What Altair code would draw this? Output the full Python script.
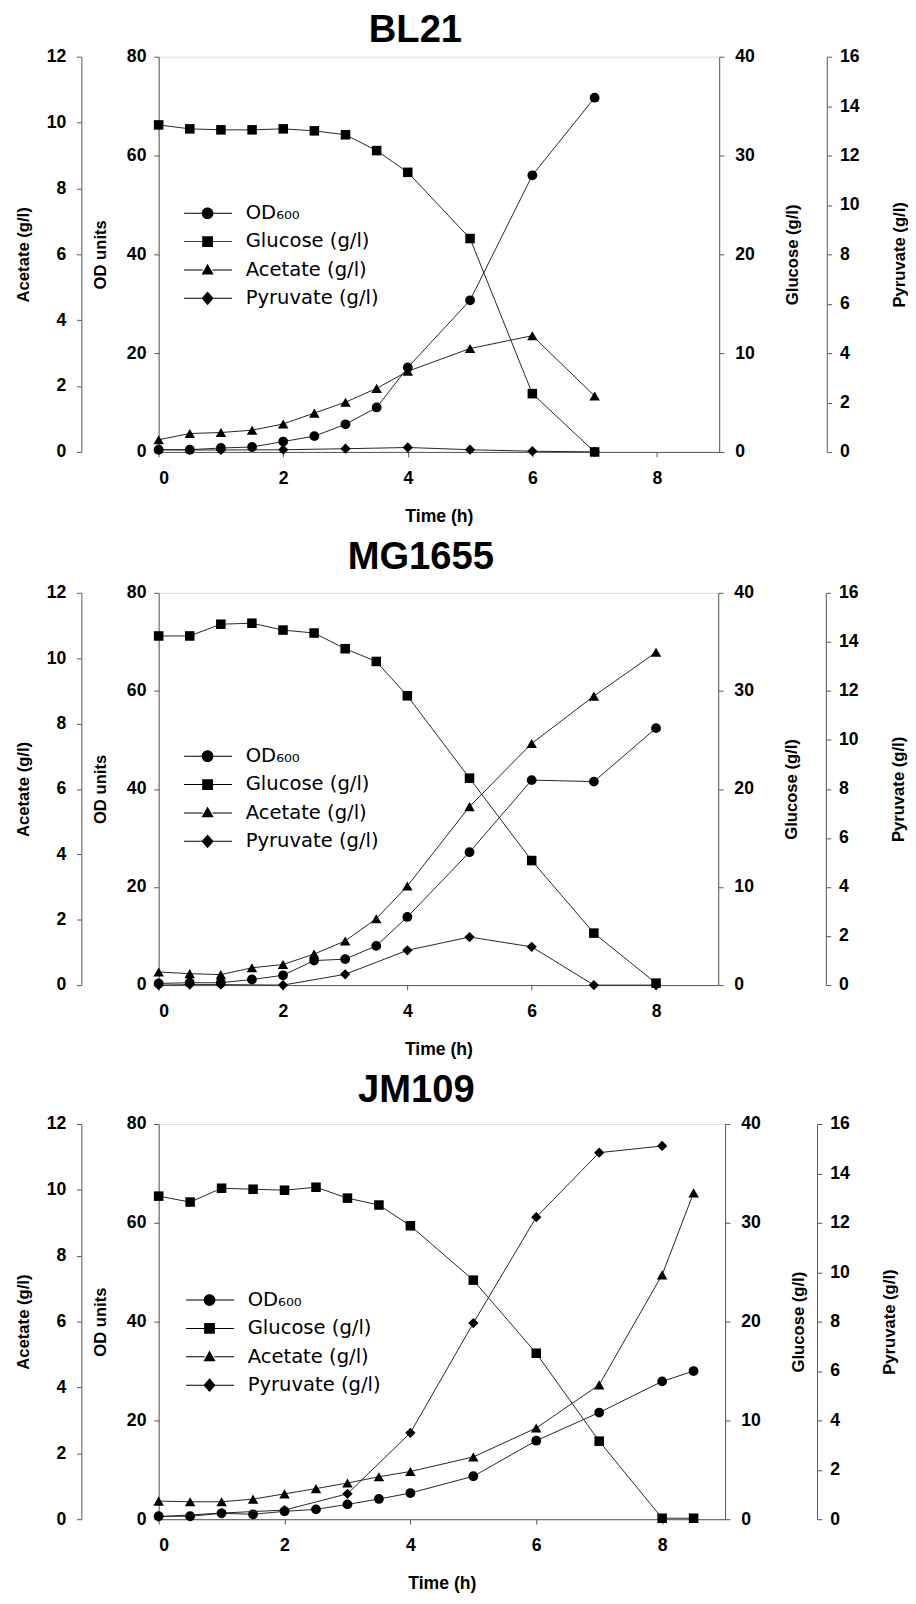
import altair as alt
import pandas as pd

FONT = "Liberation Sans"
LEG_FONT = "DejaVu Sans"
LEGEND_NAMES = ["OD₆₀₀", "Glucose (g/l)", "Acetate (g/l)", "Pyruvate (g/l)"]
X_TICKS = [0, 2, 4, 6, 8]
OD_TICKS = [0, 20, 40, 60, 80]
GLC_TICKS = [0, 10, 20, 30, 40]
ACE_TICKS = [0, 2, 4, 6, 8, 10, 12]
PYR_TICKS = [0, 2, 4, 6, 8, 10, 12, 14, 16]

# ---- BL21 ----
BL_T = [0, 0.5, 1, 1.5, 2, 2.5, 3, 3.5, 4, 5, 6, 7]
BL_OD = [0.45, 0.45, 0.8, 1.0, 2.1, 3.2, 5.6, 9.0, 17.1, 30.7, 56.0, 71.7]
BL_GLC = [33.1, 32.7, 32.6, 32.6, 32.7, 32.5, 32.1, 30.5, 28.3, 21.6, 5.9, 0.0]
BL_ACE = [0.37, 0.56, 0.59, 0.66, 0.85, 1.18, 1.51, 1.93, 2.45, 3.14, 3.53, 1.70]
BL_PYR_T = [0, 0.5, 1, 2, 3, 4, 5, 6, 7]
BL_PYR = [0.09, 0.08, 0.08, 0.09, 0.13, 0.18, 0.09, 0.03, 0.0]

# ---- MG1655 ----
MG_T = [0, 0.5, 1, 1.5, 2, 2.5, 3, 3.5, 4, 5, 6, 7, 8]
MG_OD = [0.34, 0.48, 0.48, 1.14, 2.0, 5.0, 5.3, 8.0, 13.9, 27.1, 41.8, 41.5, 52.4]
MG_GLC = [35.6, 35.6, 36.8, 36.9, 36.2, 35.9, 34.3, 33.0, 29.5, 21.1, 12.7, 5.3, 0.2]
MG_ACE = [0.40, 0.35, 0.32, 0.53, 0.63, 0.95, 1.35, 2.03, 3.03, 5.46, 7.39, 8.84, 10.18]
MG_PYR_T = [0, 0.5, 1, 2, 3, 4, 5, 6, 7, 8]
MG_PYR = [0.0, 0.02, 0.02, 0.0, 0.44, 1.42, 1.96, 1.56, 0.0, 0.0]

# ---- JM109 ----
JM_T = [0, 0.5, 1, 1.5, 2, 2.5, 3, 3.5, 4, 5, 6, 7, 8, 8.5]
JM_OD = [0.6, 0.6, 1.2, 1.0, 1.6, 2.0, 3.0, 4.1, 5.3, 8.7, 15.9, 21.6, 27.9, 30.0]
JM_GLC = [32.7, 32.1, 33.5, 33.4, 33.3, 33.6, 32.5, 31.8, 29.7, 24.2, 16.8, 7.9, 0.1, 0.1]
JM_ACE = [0.55, 0.53, 0.53, 0.61, 0.77, 0.93, 1.10, 1.29, 1.45, 1.89, 2.77, 4.08, 7.42, 9.91]
JM_PYR_T = [0, 1, 2, 3, 4, 5, 6, 7, 8]
JM_PYR = [0.1, 0.25, 0.37, 1.03, 3.5, 7.94, 12.23, 14.84, 15.11]

# legend symbols: line segment + marker (custom unit paths)
LEG_PATHS = [
    "M-2.4,-0.05H-0.5V0.05H-2.4Z M0.5,-0.05H2.5V0.05H0.5Z M0.6,0A0.6,0.6 0 1,1 -0.6,0A0.6,0.6 0 1,1 0.6,0Z",
    "M-2.4,-0.05H-0.5V0.05H-2.4Z M0.5,-0.05H2.5V0.05H0.5Z M-0.55,-0.55H0.55V0.55H-0.55Z",
    "M-2.4,-0.05H-0.5V0.05H-2.4Z M0.5,-0.05H2.5V0.05H0.5Z M0,-0.65L0.62,0.45H-0.62Z",
    "M-2.4,-0.05H-0.5V0.05H-2.4Z M0.5,-0.05H2.5V0.05H0.5Z M0,-0.7L0.62,0L0,0.7L-0.62,0Z",
]

AX = dict(
    labelFont=FONT, labelFontSize=18, labelFontWeight="bold", labelColor="black",
    titleFont=FONT, titleFontWeight="bold", titleColor="black",
    domainColor="#555", tickColor="#555", grid=False, tickSize=5,
)
LINE = dict(color="#222", strokeWidth=1)


def pt(shape, size=95):
    return alt.OverlayMarkDef(shape=shape, filled=True, size=size, color="black", opacity=1)


def panel(name, t, od, glc, ace, pyt, pyr, w, h, leg_x, leg_y, title_offset, title_dx, pyr_offset):
    main = pd.DataFrame({"t": t, "od": od, "glc": glc, "ace": ace})
    pdf = pd.DataFrame({"t": pyt, "pyr": pyr})
    x = alt.X("t:Q", scale=alt.Scale(domain=[0, 9], nice=False),
              axis=alt.Axis(values=X_TICKS, title="Time (h)", labelPadding=13,
                            titlePadding=21, titleFontSize=18, **AX))

    ace_l = alt.Chart(main).mark_line(point=pt("triangle-up", 115), **LINE).encode(
        x=x,
        y=alt.Y("ace:Q", scale=alt.Scale(domain=[0, 12], nice=False),
                axis=alt.Axis(orient="left", offset=79, values=ACE_TICKS, title="Acetate (g/l)",
                              labelPadding=11, titlePadding=14, titleFontSize=17, **AX)))
    od_l = alt.Chart(main).mark_line(point=pt("circle", 100), **LINE).encode(
        x=x,
        y=alt.Y("od:Q", scale=alt.Scale(domain=[0, 80], nice=False),
                axis=alt.Axis(orient="left", values=OD_TICKS, title="OD units",
                              labelPadding=8, titlePadding=17, titleFontSize=17, **AX)))
    glc_l = alt.Chart(main).mark_line(point=pt("square", 95), **LINE).encode(
        x=x,
        y=alt.Y("glc:Q", scale=alt.Scale(domain=[0, 40], nice=False),
                axis=alt.Axis(orient="right", values=GLC_TICKS, title="Glucose (g/l)",
                              titleAngle=270, titleBaseline="top", titleFontSize=17,
                              labelPadding=11, titlePadding=31, **AX)))
    pyr_l = alt.Chart(pdf).mark_line(point=pt("diamond", 110), **LINE).encode(
        x=x,
        y=alt.Y("pyr:Q", scale=alt.Scale(domain=[0, 16], nice=False),
                axis=alt.Axis(orient="right", offset=pyr_offset, values=PYR_TICKS,
                              title="Pyruvate (g/l)",
                              titleAngle=270, titleBaseline="top", titleFontSize=17,
                              labelPadding=8, titlePadding=33, **AX)))
    leg = alt.Chart(pd.DataFrame({"series": LEGEND_NAMES})).transform_filter(
        "datum.series == 'none'"
    ).mark_point(filled=True, color="black", size=400, opacity=1).encode(
        shape=alt.Shape("series:N",
                        scale=alt.Scale(domain=LEGEND_NAMES, range=LEG_PATHS),
                        legend=alt.Legend(orient="none", legendX=leg_x, legendY=leg_y, title=None,
                                          labelFont=LEG_FONT, labelFontSize=20, labelColor="black",
                                          labelFontWeight="normal", labelOffset=29,
                                          symbolSize=400, symbolFillColor="black",
                                          symbolStrokeWidth=0, symbolOpacity=1,
                                          rowPadding=9, padding=0, labelLimit=300)))
    return alt.layer(ace_l, od_l, glc_l, pyr_l, leg).resolve_scale(
        y="independent", shape="independent"
    ).properties(
        width=w, height=h,
        title=alt.TitleParams(name, font=FONT, fontSize=39, fontWeight="bold", color="black",
                              anchor="middle", frame="group", dx=title_dx, offset=title_offset),
    )


p1 = panel("BL21", BL_T, BL_OD, BL_GLC, BL_ACE, BL_PYR_T, BL_PYR,
           573, 404, 40, 150, -2, -24, 110)
p2 = panel("MG1655", MG_T, MG_OD, MG_GLC, MG_ACE, MG_PYR_T, MG_PYR,
           572, 401, 40, 157, 7, -18, 110)
p3 = panel("JM109", JM_T, JM_OD, JM_GLC, JM_ACE, JM_PYR_T, JM_PYR,
           579, 404, 42, 170, 5, -26, 94)

chart = alt.vconcat(p1, p2, p3, spacing=12).resolve_scale(
    shape="independent", x="independent"
).resolve_legend(shape="independent").properties(
    padding={"left": 6, "top": -15, "right": 0, "bottom": 0}
).configure_view(stroke="#555", strokeWidth=1).configure(font=FONT)

chart.save("out.html", embed_options={"renderer": "svg", "actions": False})
